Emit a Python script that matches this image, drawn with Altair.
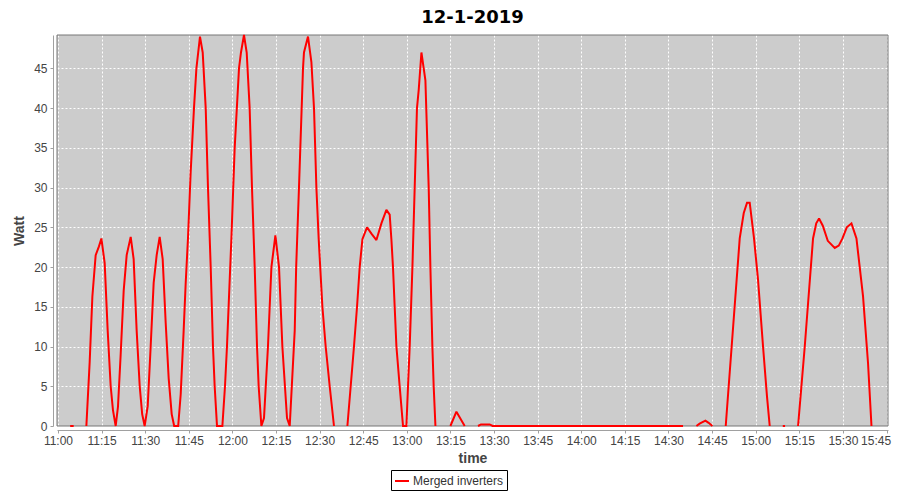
import altair as alt
import pandas as pd

# minutes after 11:00 and measured power (None = no data / gap)
minutes = [
    4.2, 5.4, 7.0,
    9.77, 10.9, 11.83, 12.97, 14.1, 14.93, 16.06, 17.1, 18.13, 18.92, 19.85,
    20.64, 21.57, 22.6, 23.63, 25.01, 26.04, 27.07, 28.11, 28.96, 29.82,
    30.86, 31.89, 32.92, 33.95, 34.98, 36.01, 37.05, 38.08, 39.11, 39.97,
    41.35, 42.21, 43.24, 43.93, 44.72, 45.65, 46.78, 47.61, 48.85, 49.78,
    50.81, 51.6, 52.53, 53.32, 53.9, 54.7, 56.55, 57.45, 58.14, 59.65,
    60.78, 62.26, 62.95, 63.98, 64.91, 65.94, 66.74, 67.66, 68.46, 69.04,
    69.97, 70.86, 72.24, 73.41, 74.79, 76.03, 77.19, 78.78, 79.71, 81.43,
    81.94, 82.9, 84.28, 84.62, 86.0, 87.17, 88.06, 88.89, 89.68, 90.95,
    92.09, 93.46, 94.94, 97.0,
    99.55, 100.69, 101.82, 102.86, 103.78, 104.71, 106.3, 107.81, 109.53,
    111.25, 112.97, 114.1, 114.69, 115.24, 115.82, 116.41, 117.54, 118.68,
    119.85, 120.4, 120.98, 121.91, 122.7, 123.49, 124.08, 125.01, 125.8,
    126.39, 127.52, 128.1, 128.79, 129.24, 129.83, 132.0,
    134.98, 137.05, 139.9, 141.5,
    144.48, 145.5, 148.5, 149.5, 215.0, 217.0,
    219.6, 220.7, 222.7, 223.8, 225.1, 226.5,
    229.68, 234.5, 235.88, 237.01, 237.94, 239.42, 240.8, 242.52, 243.89,
    244.82, 247.0,
    249.3, 250.1, 252.0,
    254.56, 256.86, 259.72, 260.82, 261.78, 263.06, 264.78, 267.18, 268.56,
    269.83, 271.31, 272.93, 274.65, 276.92, 278.64, 279.81,
]
watts = [
    0, 0, None,
    0, 8, 16.3, 21.5, 22.6, 23.6, 20.5, 12, 5, 2, 0,
    2.4, 9, 17, 21.5, 23.8, 21, 12, 5, 1.5, 0,
    2.5, 10, 18, 21.5, 23.8, 21, 13, 6, 1.5, 0,
    0, 4, 12, 18, 23.6, 32, 40, 45, 49, 47,
    40, 30, 20, 10, 5, 0, 0, 5, 10, 23.6,
    35, 45, 47, 49.2, 47, 40, 30, 20, 10, 5,
    0, 1, 10, 20, 24, 20, 10, 1, 0, 12,
    20, 30, 45, 47, 49, 45.8, 40, 30, 23.5, 15,
    10, 5, 0, None,
    0, 5, 10, 15, 20, 23.5, 25, 24.2, 23.4,
    25.5, 27.2, 26.6, 23.5, 20, 15, 10, 5, 0,
    0, 5, 10, 20, 30, 40, 42.3, 47, 45,
    43.5, 30, 20, 10, 5, 0, None,
    0, 1.8, 0, None,
    0, 0.2, 0.2, 0, 0, None,
    0, 0.3, 0.67, 0.4, 0, None,
    0, 23.6, 26.8, 28.1, 28.1, 23.6, 18.4, 10, 3.7,
    0, None,
    0, 0, None,
    0, 10, 23.6, 25.5, 26.1, 25.2, 23.3, 22.4, 22.7,
    23.6, 25, 25.5, 23.6, 16.3, 7.9, 0,
]
series_name = "Merged inverters"
y_ticks = [0, 5, 10, 15, 20, 25, 30, 35, 40, 45]
x_tick_labels = ["11:00", "11:15", "11:30", "11:45", "12:00", "12:15", "12:30", "12:45",
                 "13:00", "13:15", "13:30", "13:45", "14:00", "14:15", "14:30", "14:45",
                 "15:00", "15:15", "15:30", "15:45"]

day = "2019-01-12T"
times = []
for m in minutes:
    s = int(round(m * 60))
    h, rem = divmod(s, 3600)
    mi, se = divmod(rem, 60)
    times.append(f"{day}{11 + h:02d}:{mi:02d}:{se:02d}")
df = pd.DataFrame({"time": times, "watt": watts, "series": series_name})

x_dom = [
    alt.DateTime(year=2019, month=1, date=12, hours=10, minutes=59, seconds=40),
    alt.DateTime(year=2019, month=1, date=12, hours=15, minutes=45, seconds=30),
]
x_vals = [
    alt.DateTime(year=2019, month=1, date=12, hours=int(t[:2]), minutes=int(t[3:]))
    for t in x_tick_labels
]

W, H = 831, 391
LABEL_FONT = "Liberation Sans"

axis_common = dict(
    domainColor="#a0a0a0",
    tickColor="#a0a0a0",
    tickSize=3,
    offset=4,
    labelFont=LABEL_FONT,
    labelFontSize=12,
    labelColor="#444444",
    titleFont=LABEL_FONT,
    titleFontSize=14,
    titleFontWeight="bold",
    titleColor="#444444",
    gridColor="white",
    gridDash=[2, 2],
    gridWidth=1,
    gridOpacity=1,
)

border = (
    alt.Chart(pd.DataFrame({"k": [0]}))
    .mark_rect(fill="transparent", stroke="#777777", strokeWidth=1)
    .encode(x=alt.value(0), x2=alt.value(W), y=alt.value(0), y2=alt.value(H))
)

line = (
    alt.Chart(df)
    .mark_line(strokeWidth=2, strokeMiterLimit=2)
    .encode(
        x=alt.X(
            "time:T",
            title="time",
            scale=alt.Scale(domain=x_dom, nice=False),
            axis=alt.Axis(
                format="%H:%M",
                values=x_vals,
                labelPadding=2,
                titlePadding=5,
                labelOverlap=False,
                labelFlush=False,
                labelOffset={"expr": "datum.index >= 0.999 ? -11 : 0"},
                **axis_common,
            ),
        ),
        y=alt.Y(
            "watt:Q",
            title="Watt",
            scale=alt.Scale(domain=[0, 49.2], nice=False, zero=True),
            axis=alt.Axis(values=y_ticks, labelPadding=3, titlePadding=7, **axis_common),
        ),
        color=alt.Color(
            "series:N",
            title=None,
            scale=alt.Scale(domain=[series_name], range=["#ff0000"]),
            legend=alt.Legend(
                orient="none",
                legendX=334,
                legendY=435,
                direction="horizontal",
                strokeColor="black",
                fillColor="white",
                padding=3,
                symbolType="stroke",
                symbolSize=196,
                symbolStrokeWidth=2,
                labelFont=LABEL_FONT,
                labelFontSize=12,
                labelColor="#333333",
                labelOffset=3,
            ),
        ),
    )
)

chart = (
    alt.layer(border, line)
    .properties(
        width=W,
        height=H,
        autosize=alt.AutoSizeParams(type="none"),
        padding={"left": 49, "top": 27, "right": 4, "bottom": 66},
        title=alt.TitleParams(
            "12-1-2019",
            font="DejaVu Sans",
            fontSize=18,
            fontWeight="bold",
            color="black",
            anchor="middle",
            frame="group",
            offset=6,
        ),
    )
    .configure(background="white")
    .configure_view(fill="#cccccc", stroke="transparent", strokeWidth=0)
)

chart.save("out.html", embed_options={"renderer": "svg", "actions": False})
